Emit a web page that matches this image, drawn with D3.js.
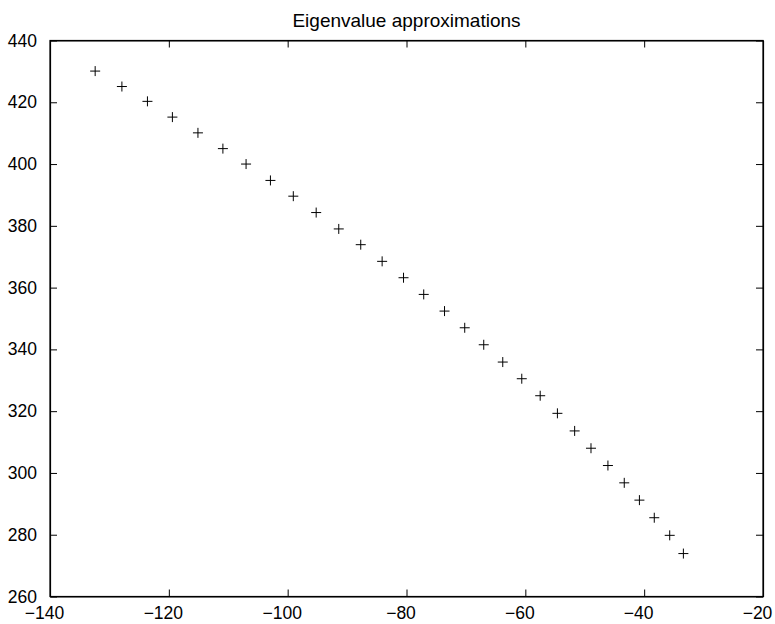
<!DOCTYPE html>
<html>
<head>
<meta charset="utf-8">
<script src="https://cdn.jsdelivr.net/npm/d3@7"></script>
<style>
  html, body { margin: 0; padding: 0; background: #fff; }
  svg { display: block; }
  text { font-family: "Liberation Sans", Arial, Helvetica, sans-serif; fill: #000; }
</style>
</head>
<body>
<script>
const title = "Eigenvalue approximations";
const xValues = [-132.4, -127.9, -123.6, -119.4, -115.1, -110.9, -107.0, -102.9, -99.05, -95.2,
  -91.4, -87.7, -84.1, -80.5, -77.1, -73.6, -70.2, -67.0, -63.8, -60.6,
  -57.5, -54.6, -51.7, -48.95, -46.1, -43.35, -40.8, -38.3, -35.7, -33.4];
const yValues = [430.1, 425.1, 420.3, 415.2, 410.1, 405.0, 400.0, 394.7, 389.6, 384.3,
  379.0, 373.9, 368.5, 363.2, 357.8, 352.4, 347.0, 341.5, 335.9, 330.5,
  325.0, 319.3, 313.6, 308.0, 302.4, 296.8, 291.2, 285.5, 279.8, 273.9];
const xTicks = [-140, -120, -100, -80, -60, -40, -20];
const yTicks = [260, 280, 300, 320, 340, 360, 380, 400, 420, 440];

const W = 775, H = 624;
const m = { left: 50, right: 12, top: 40.5, bottom: 27.5 };

const svg = d3.select("body").append("svg").attr("width", W).attr("height", H);

const x = d3.scaleLinear().domain([-140, -20]).range([m.left, W - m.right]);
const y = d3.scaleLinear().domain([260, 440]).range([H - m.bottom, m.top]);

const fmt = d => d < 0 ? "\u2212" + Math.abs(d) : String(d);
const tickLen = 7;
const fs = 17.5;

// axes with inward ticks
svg.append("g").attr("transform", `translate(0,${y(260)})`)
  .call(d3.axisBottom(x).tickValues(xTicks).tickSizeInner(-tickLen).tickSizeOuter(0).tickPadding(tickLen + 3).tickFormat(fmt))
  .call(g => g.selectAll("text").attr("font-size", fs).attr("dx", -6));
svg.append("g").attr("transform", `translate(0,${y(440)})`)
  .call(d3.axisTop(x).tickValues(xTicks).tickSizeInner(-tickLen).tickSizeOuter(0).tickFormat(""));
svg.append("g").attr("transform", `translate(${x(-140)},0)`)
  .call(d3.axisLeft(y).tickValues(yTicks).tickSizeInner(-tickLen).tickSizeOuter(0).tickPadding(tickLen + 6).tickFormat(fmt))
  .call(g => g.selectAll("text").attr("font-size", fs));
svg.append("g").attr("transform", `translate(${x(-20)},0)`)
  .call(d3.axisRight(y).tickValues(yTicks).tickSizeInner(-tickLen).tickSizeOuter(0).tickFormat(""));

svg.selectAll(".domain").attr("stroke", "#000").attr("stroke-width", 1.2);
svg.selectAll(".tick line").attr("stroke", "#000").attr("stroke-width", 1);
svg.selectAll(".tick text").attr("fill", "#000").attr("font-family", "'Liberation Sans', Arial, sans-serif");

// box
svg.append("rect")
  .attr("x", x(-140)).attr("y", y(440))
  .attr("width", x(-20) - x(-140)).attr("height", y(260) - y(440))
  .attr("fill", "none").attr("stroke", "#000").attr("stroke-width", 1.2);

// title
svg.append("text")
  .attr("x", (x(-140) + x(-20)) / 2).attr("y", 26.5)
  .attr("text-anchor", "middle").attr("font-size", 19)
  .text(title);

// plus markers
const s = 5;
const pts = svg.append("g").selectAll("g").data(d3.range(xValues.length)).join("g")
  .attr("transform", i => `translate(${x(xValues[i])},${y(yValues[i])})`);
pts.append("line").attr("x1", -s).attr("x2", s).attr("y1", 0).attr("y2", 0).attr("stroke", "#000").attr("stroke-width", 1);
pts.append("line").attr("x1", 0).attr("x2", 0).attr("y1", -s).attr("y2", s).attr("stroke", "#000").attr("stroke-width", 1);
</script>
</body>
</html>
